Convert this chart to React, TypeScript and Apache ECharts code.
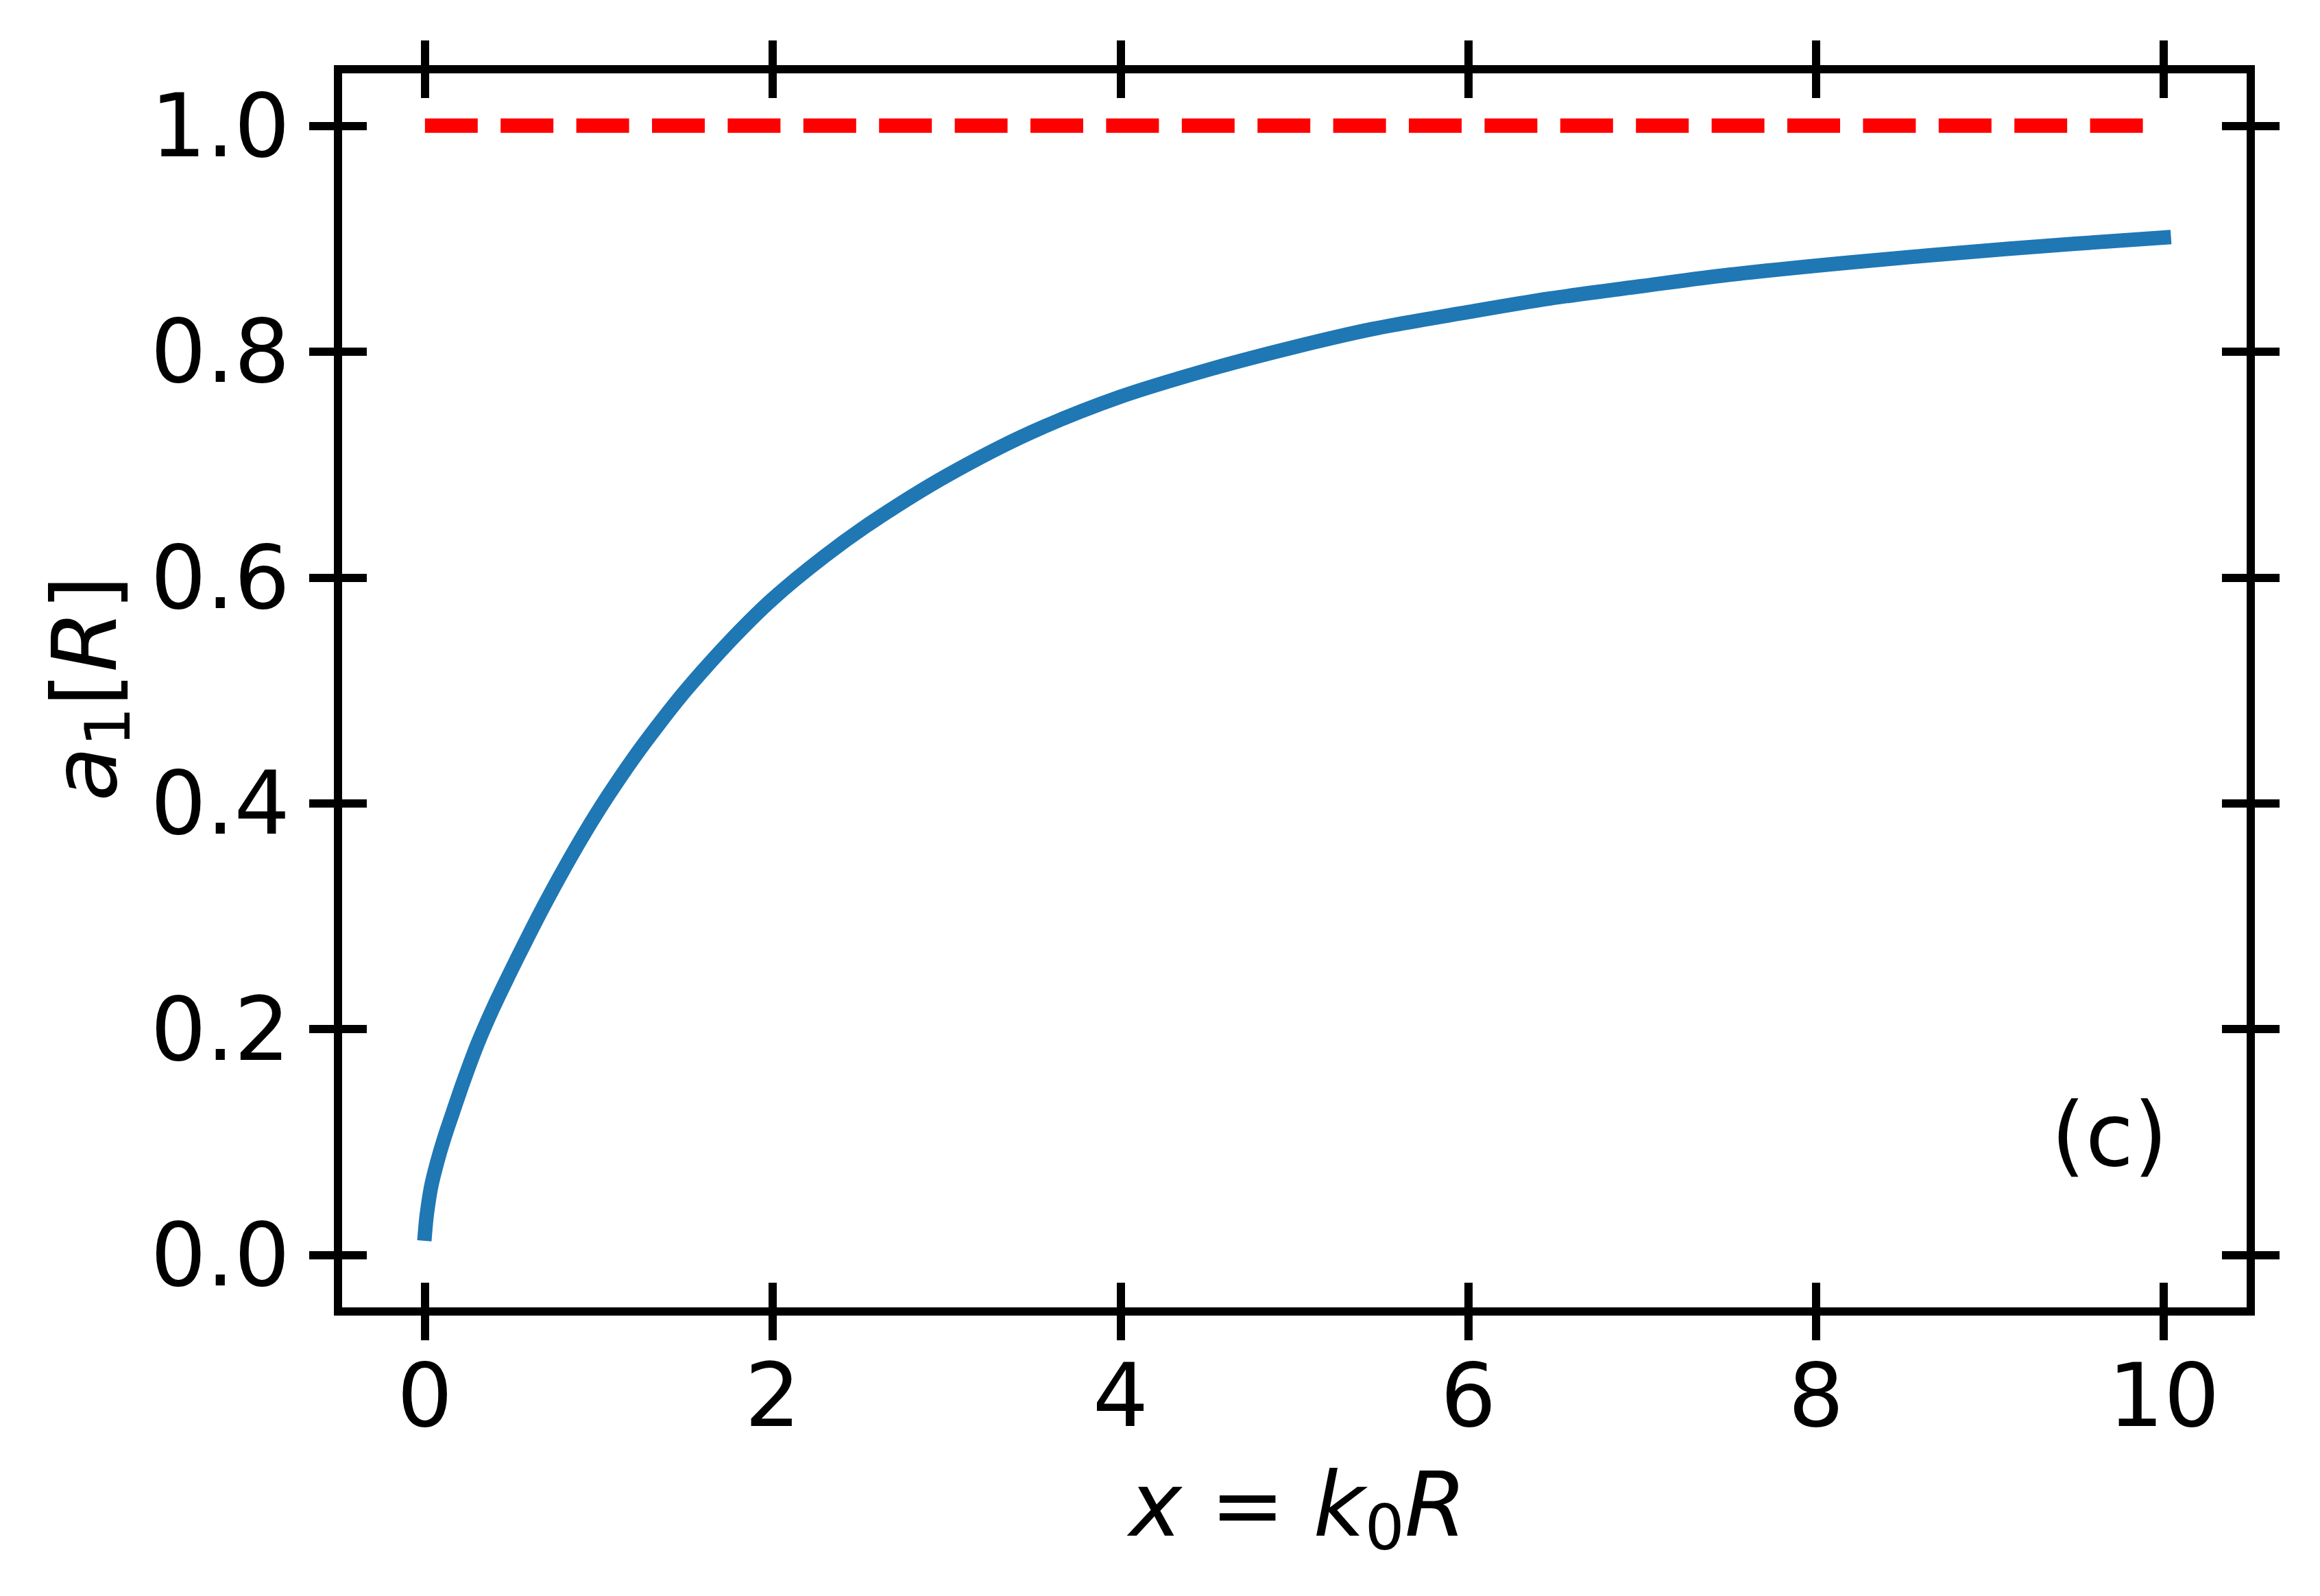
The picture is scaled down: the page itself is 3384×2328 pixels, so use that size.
import React, { useEffect, useRef } from "react";
import * as echarts from "echarts";

// ---- data ----
const xValues = [0, 0.01, 0.035, 0.07, 0.11, 0.16, 0.22, 0.3, 0.39, 0.48, 0.58, 0.68, 0.8, 0.92, 1.05, 1.2, 1.35, 1.5, 1.75, 2.0, 2.3, 2.6, 3.0, 3.48, 4.0, 4.53, 5.0, 5.45, 6.0, 6.47, 7.0, 7.5, 8.2, 9.1, 10];
const a1Values = [0.019, 0.035, 0.06, 0.082, 0.103, 0.126, 0.153, 0.186, 0.218, 0.247, 0.278, 0.308, 0.342, 0.374, 0.406, 0.44, 0.471, 0.5, 0.543, 0.581, 0.619, 0.652, 0.69, 0.728, 0.76, 0.785, 0.804, 0.82, 0.835, 0.847, 0.858, 0.868, 0.879, 0.891, 0.901];
const refX = [0, 10];
const refY = [1, 1];
const xTicks = [0, 2, 4, 6, 8, 10];
const yTicks = [0, 0.2, 0.4, 0.6, 0.8, 1.0];
const xRange = [-0.5, 10.5];
const yRange = [-0.05, 1.05];

const FONT = "DejaVu Sans";
const TICK_LEN = 42;
const TICK_W = 12;

function xAxisDef(position: "bottom" | "top", inside: boolean, labels: boolean) {
  return {
    type: "value",
    position,
    min: xRange[0],
    max: xRange[1],
    axisLine: { show: false, onZero: false },
    splitLine: { show: false },
    axisTick: {
      show: true,
      inside,
      length: TICK_LEN,
      customValues: xTicks,
      lineStyle: { color: "#000", width: TICK_W },
    },
    axisLabel: {
      show: labels,
      customValues: xTicks,
      margin: 58,
      fontSize: 128,
      fontFamily: FONT,
      color: "#000",
      formatter: (v: number) => String(v),
    },
  };
}

function yAxisDef(position: "left" | "right", inside: boolean, labels: boolean) {
  return {
    type: "value",
    position,
    min: yRange[0],
    max: yRange[1],
    axisLine: { show: false, onZero: false },
    splitLine: { show: false },
    axisTick: {
      show: true,
      inside,
      length: TICK_LEN,
      customValues: yTicks,
      lineStyle: { color: "#000", width: TICK_W },
    },
    axisLabel: {
      show: labels,
      customValues: yTicks,
      margin: 70,
      fontSize: 128,
      fontFamily: FONT,
      color: "#000",
      formatter: (v: number) => v.toFixed(1),
    },
  };
}

export default function App() {
  const ref = useRef<HTMLDivElement>(null);

  useEffect(() => {
    if (!ref.current) return;
    const chart = echarts.init(ref.current, null, { renderer: "svg" });

    const mainStyle = { fontSize: 130, fontFamily: FONT, fontStyle: "italic", lineHeight: 158, fill: "#000" };
    const plainStyle = { fontSize: 130, fontFamily: FONT, lineHeight: 158, fill: "#000" };
    const subStyle = { fontSize: 91, fontFamily: FONT, lineHeight: 91, verticalAlign: "bottom", fill: "#000" };

    chart.setOption({
      animation: false,
      backgroundColor: "#fff",
      grid: {
        left: 493,
        right: 101,
        top: 101,
        bottom: 415,
        show: true,
        borderColor: "#000",
        borderWidth: 12,
        backgroundColor: "transparent",
      },
      xAxis: [
        xAxisDef("bottom", false, true),
        xAxisDef("bottom", true, false),
        xAxisDef("top", false, false),
        xAxisDef("top", true, false),
      ],
      yAxis: [
        yAxisDef("left", false, true),
        yAxisDef("left", true, false),
        yAxisDef("right", false, false),
        yAxisDef("right", true, false),
      ],
      series: [
        {
          type: "line",
          xAxisIndex: 0,
          yAxisIndex: 0,
          data: xValues.map((x, i) => [x, a1Values[i]]),
          symbol: "none",
          showSymbol: false,
          smooth: 0.3,
          lineStyle: { color: "#1f77b4", width: 21, cap: "square", join: "round" },
          z: 3,
        },
        {
          type: "line",
          xAxisIndex: 0,
          yAxisIndex: 0,
          data: refX.map((x, i) => [x, refY[i]]),
          symbol: "none",
          showSymbol: false,
          lineStyle: { color: "#ff0000", width: 21, type: [77, 33.4], cap: "butt" },
          z: 3,
        },
      ],
      graphic: [
        {
          type: "text",
          x: 3162,
          y: 1655,
          style: {
            text: "(c)",
            fontSize: 128,
            fontFamily: FONT,
            fill: "#000",
            align: "right",
            verticalAlign: "middle",
          },
        },
        {
          type: "text",
          x: 1893,
          y: 2195,
          style: {
            text: "{i|x} {n|=} {i|k}{s|0}{i|R}",
            align: "center",
            verticalAlign: "middle",
            fontSize: 130,
            fontFamily: FONT,
            lineHeight: 158,
            fill: "#000",
            rich: { i: mainStyle, n: plainStyle, s: subStyle },
          },
        },
        {
          type: "text",
          x: 124,
          y: 1004,
          rotation: Math.PI / 2,
          style: {
            text: "{i|a}{s|1}{n|[}{i|R}{n|]}",
            align: "center",
            verticalAlign: "middle",
            fontSize: 130,
            fontFamily: FONT,
            lineHeight: 158,
            fill: "#000",
            rich: { i: mainStyle, n: plainStyle, s: subStyle },
          },
        },
      ],
    });

    return () => chart.dispose();
  }, []);

  return (
    <div
      ref={ref}
      style={{ position: "fixed", left: 0, top: 0, width: 3384, height: 2328, background: "#fff" }}
    />
  );
}
